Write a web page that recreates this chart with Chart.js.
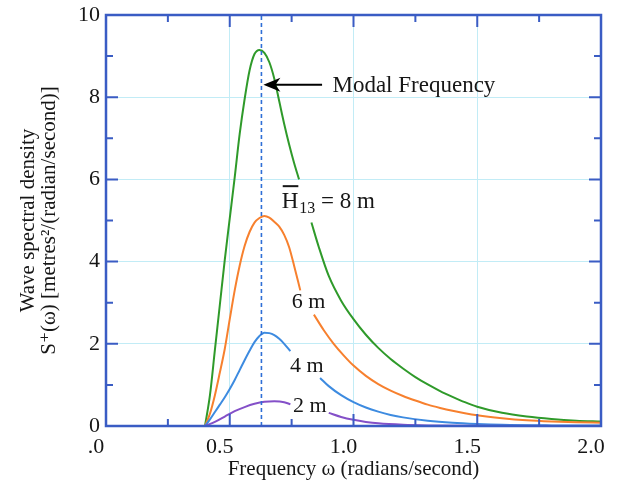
<!DOCTYPE html>
<html>
<head>
<meta charset="utf-8">
<script src="https://cdn.jsdelivr.net/npm/chart.js@4.4.1/dist/chart.umd.min.js"></script>
<style>
  html, body { margin: 0; padding: 0; background: #fff; }
</style>
</head>
<body>
<canvas id="spectrumChart" width="619" height="492"></canvas>
<script>
// values
const modalOmega = [0.628, 0.628];
const modalS = [0, 10];

// H1/3 = 8 m (green)
const omega8 = [0.40, 0.42, 0.44, 0.46, 0.48, 0.50, 0.52, 0.54, 0.56, 0.58, 0.60, 0.62, 0.64, 0.66, 0.68, 0.70, 0.72, 0.74, 0.76, 0.78, 0.80, 0.83, 0.86, 0.90, 0.95, 1.00, 1.05, 1.10, 1.15, 1.20, 1.25, 1.30, 1.35, 1.40, 1.45, 1.50, 1.60, 1.70, 1.80, 1.90, 2.00];
const s8 = [0, 0.75, 1.85, 2.95, 4.05, 5.05, 6.05, 7.1, 7.95, 8.65, 9.05, 9.15, 9.08, 8.85, 8.45, 7.9, 7.35, 6.85, 6.4, 6.0, null, 4.95, 4.35, 3.65, 3.05, 2.6, 2.22, 1.9, 1.63, 1.4, 1.19, 1.01, 0.85, 0.71, 0.58, 0.47, 0.32, 0.23, 0.17, 0.13, 0.11];

// 6 m (orange)
const omega6 = [0.40, 0.42, 0.44, 0.46, 0.48, 0.50, 0.52, 0.54, 0.56, 0.58, 0.60, 0.62, 0.64, 0.66, 0.68, 0.70, 0.72, 0.74, 0.76, 0.785, 0.81, 0.84, 0.88, 0.92, 0.96, 1.00, 1.05, 1.10, 1.15, 1.20, 1.25, 1.30, 1.35, 1.40, 1.45, 1.50, 1.60, 1.70, 1.80, 1.90, 2.00];
const s6 = [0, 0.3, 0.75, 1.3, 1.88, 2.6, 3.3, 3.9, 4.38, 4.72, 4.95, 5.06, 5.11, 5.07, 4.97, 4.85, 4.65, 4.35, 3.9, 3.3, null, 2.71, 2.33, 2.0, 1.72, 1.47, 1.22, 1.02, 0.86, 0.73, 0.62, 0.52, 0.44, 0.37, 0.31, 0.26, 0.19, 0.14, 0.11, 0.09, 0.08];

// 4 m (blue)
const omega4 = [0.40, 0.42, 0.44, 0.46, 0.48, 0.50, 0.52, 0.54, 0.56, 0.58, 0.60, 0.62, 0.64, 0.66, 0.68, 0.70, 0.72, 0.745, 0.80, 0.865, 0.90, 0.95, 1.00, 1.05, 1.10, 1.15, 1.20, 1.30, 1.40, 1.50, 1.60, 1.80, 2.00];
const s4 = [0, 0.16, 0.34, 0.52, 0.7, 0.9, 1.12, 1.36, 1.6, 1.83, 2.04, 2.19, 2.27, 2.26, 2.21, 2.12, 2.0, 1.82, null, 1.17, 0.97, 0.75, 0.58, 0.45, 0.35, 0.27, 0.21, 0.13, 0.08, 0.05, 0.03, 0.015, 0.01];

// 2 m (purple)
const omega2 = [0.40, 0.44, 0.48, 0.52, 0.56, 0.60, 0.64, 0.68, 0.72, 0.745, 0.82, 0.90, 0.95, 1.00, 1.05, 1.10, 1.20, 1.30, 1.50, 2.00];
const s2 = [0, 0.1, 0.23, 0.36, 0.46, 0.54, 0.59, 0.6, 0.58, 0.53, null, 0.32, 0.22, 0.15, 0.1, 0.065, 0.03, 0.015, 0.005, 0];

const xTickLabels = ['.0', '0.5', '1.0', '1.5', '2.0'];

const serif = '"Liberation Serif", "DejaVu Serif", serif';
const inkColor = '#161616';
const frameColor = '#3a5cc4';

function pts(xs, ys) {
  return xs.map((v, i) => ({ x: v, y: ys[i] }));
}

// frame, inward ticks, curve labels and arrow
const overlay = {
  id: 'overlay',
  afterDatasetsDraw(chart) {
    const { ctx, chartArea: a, scales: { x, y } } = chart;
    ctx.save();
    ctx.strokeStyle = frameColor;
    ctx.lineWidth = 2.5;
    ctx.strokeRect(a.left, a.top, a.right - a.left, a.bottom - a.top);

    ctx.lineWidth = 2;
    ctx.beginPath();
    for (let k = 1; k < 8; k++) {
      const px = x.getPixelForValue(k * 0.25);
      const len = k % 2 === 0 ? 12 : 7;
      ctx.moveTo(px, a.bottom); ctx.lineTo(px, a.bottom - len);
      ctx.moveTo(px, a.top); ctx.lineTo(px, a.top + len);
    }
    for (let k = 1; k < 10; k++) {
      const py = y.getPixelForValue(k);
      const len = k % 2 === 0 ? 12 : 7;
      ctx.moveTo(a.left, py); ctx.lineTo(a.left + len, py);
      ctx.moveTo(a.right, py); ctx.lineTo(a.right - len, py);
    }
    ctx.stroke();

    ctx.fillStyle = inkColor;
    ctx.textBaseline = 'alphabetic';
    ctx.textAlign = 'left';

    // Modal Frequency label + arrow
    ctx.font = '23px ' + serif;
    ctx.fillText('Modal Frequency', x.getPixelForValue(0.915), y.getPixelForValue(8.3) + 7);
    const ax0 = x.getPixelForValue(0.873), ax1 = x.getPixelForValue(0.636);
    const ay = y.getPixelForValue(8.3);
    ctx.strokeStyle = '#000';
    ctx.lineWidth = 2;
    ctx.beginPath();
    ctx.moveTo(ax0, ay); ctx.lineTo(ax1 + 10, ay);
    ctx.stroke();
    ctx.fillStyle = '#000';
    ctx.beginPath();
    ctx.moveTo(ax1, ay);
    ctx.lineTo(ax1 + 17, ay - 7);
    ctx.lineTo(ax1 + 12, ay);
    ctx.lineTo(ax1 + 17, ay + 7);
    ctx.closePath();
    ctx.fill();

    // H13 = 8 m
    ctx.fillStyle = inkColor;
    let hx = x.getPixelForValue(0.71);
    const hy = y.getPixelForValue(5.3);
    ctx.font = '23px ' + serif;
    ctx.fillText('H', hx, hy);
    const wH = ctx.measureText('H').width;
    ctx.fillRect(hx + 1, hy - 23, wH - 1, 2);
    hx += wH + 1;
    ctx.font = '16px ' + serif;
    ctx.fillText('13', hx, hy + 5);
    hx += ctx.measureText('13').width;
    ctx.font = '23px ' + serif;
    ctx.fillText(' = 8 m', hx, hy);

    ctx.font = '22px ' + serif;
    ctx.fillText('6 m', x.getPixelForValue(0.75), y.getPixelForValue(2.86));
    ctx.fillText('4 m', x.getPixelForValue(0.743), y.getPixelForValue(1.32));
    ctx.fillText('2 m', x.getPixelForValue(0.756), y.getPixelForValue(0.35));
    ctx.restore();
  }
};

const lineStyle = {
  pointRadius: 0,
  borderWidth: 2,
  cubicInterpolationMode: 'monotone',
  fill: false
};

new Chart(document.getElementById('spectrumChart').getContext('2d'), {
  type: 'line',
  data: {
    datasets: [
      { label: 'modal', data: pts(modalOmega, modalS), borderColor: '#2f6fd6', borderWidth: 1.6, borderDash: [4, 3], pointRadius: 0 },
      { label: '2 m', data: pts(omega2, s2), borderColor: '#8450c8', ...lineStyle },
      { label: '4 m', data: pts(omega4, s4), borderColor: '#3d8be0', ...lineStyle },
      { label: '6 m', data: pts(omega6, s6), borderColor: '#f7802e', ...lineStyle },
      { label: '8 m', data: pts(omega8, s8), borderColor: '#2f9a2a', ...lineStyle }
    ]
  },
  options: {
    responsive: false,
    animation: false,
    layout: { padding: { top: 15, right: 18, bottom: 0, left: 0 } },
    plugins: {
      legend: { display: false },
      tooltip: { enabled: false }
    },
    scales: {
      x: {
        type: 'linear',
        min: 0,
        max: 2,
        afterFit(scale) {
          scale.height = 66;
          scale.paddingLeft = 0;
          scale.paddingRight = 0;
        },
        border: { display: false },
        grid: { color: '#c2ecf6', lineWidth: 1, drawTicks: false },
        ticks: {
          stepSize: 0.5,
          padding: 8,
          labelOffset: -10,
          color: inkColor,
          font: { family: serif, size: 22 },
          callback: (v, i) => xTickLabels[i]
        },
        title: {
          display: true,
          text: 'Frequency ω (radians/second)',
          color: inkColor,
          font: { family: serif, size: 21 },
          padding: { top: 0, bottom: 10 }
        }
      },
      y: {
        min: 0,
        max: 10,
        afterFit(scale) {
          scale.width = 106;
          scale.paddingTop = 0;
          scale.paddingBottom = 0;
        },
        border: { display: false },
        grid: { color: '#c2ecf6', lineWidth: 1, drawTicks: false },
        ticks: {
          stepSize: 2,
          padding: 6,
          color: inkColor,
          font: { family: serif, size: 22 }
        },
        title: {
          display: true,
          text: ['Wave spectral density', 'S⁺(ω) [metres²/(radian/second)]'],
          color: inkColor,
          font: { family: serif, size: 21, lineHeight: 1.0 },
          padding: { top: 18, bottom: 0 }
        }
      }
    }
  },
  plugins: [overlay]
});
</script>
</body>
</html>
